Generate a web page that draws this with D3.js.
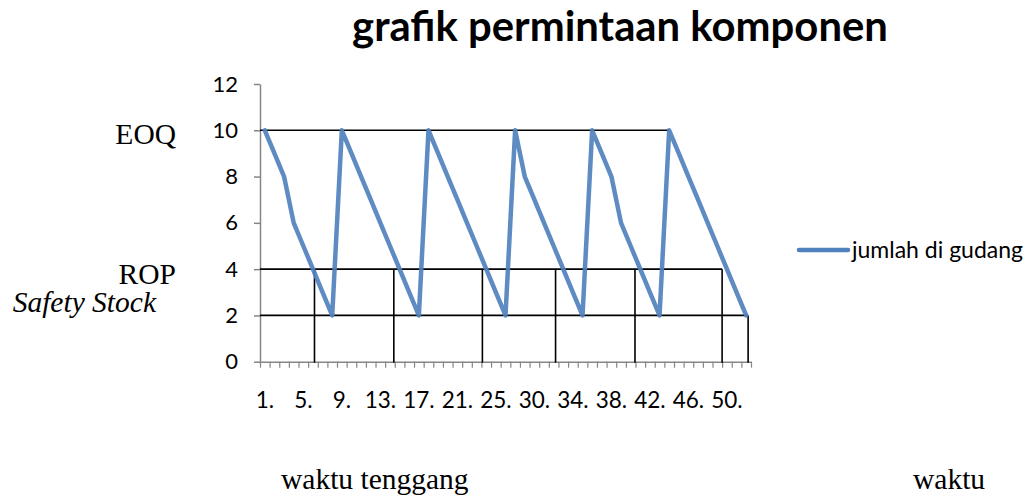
<!DOCTYPE html>
<html>
<head>
<meta charset="utf-8">
<script src="https://cdn.jsdelivr.net/npm/d3@7/dist/d3.min.js"></script>
<style>
  body { margin: 0; background: #fff; }
  svg { display: block; }
</style>
</head>
<body>
<script>
// label waktu di sumbu x (angka 26 tidak ada di data asli)
const categories = ['1.', '2.', '3.', '4.', '5.', '6.', '7.', '8.', '9.', '10.', '11.', '12.', '13.',
  '14.', '15.', '16.', '17.', '18.', '19.', '20.', '21.', '22.', '23.', '24.', '25.', '27.', '28.',
  '29.', '30.', '31.', '32.', '33.', '34.', '35.', '36.', '37.', '38.', '39.', '40.', '41.', '42.',
  '43.', '44.', '45.', '46.', '47.', '48.', '49.', '50.', '51.', '52.'];

// jumlah di gudang per periode
const stock = [10, 9, 8, 6, 5, 4, 3, 2,
  10, 9, 8, 7, 6, 5, 4, 3, 2,
  10, 9, 8, 7, 6, 5, 4, 3, 2,
  10, 8, 7, 6, 5, 4, 3, 2,
  10, 9, 8, 6, 5, 4, 3, 2,
  10, 9, 8, 7, 6, 5, 4, 3, 2];

const yTicks = [0, 2, 4, 6, 8, 10, 12];
const seriesName = 'jumlah di gudang';

// garis bantu: level stok (nilai) dan ujungnya (indeks kategori)
const levelNames = ['EOQ', 'ROP', 'Safety Stock'];
const levelValues = [10, 4, 2];
const levelEnds = [42, 47.5, 50.2];
// garis waktu tenggang (indeks kategori)
const leadMarks = [5.16, 13.4, 22.6, 30.2, 38.45, 47.5];
const lastMark = 50.2;

const width = 1032;
const height = 496;

let svg = d3.select(document.body).append('svg')
  .attr('width', width)
  .attr('height', height);

let x = d3.scaleLinear()
  .domain([-0.5, categories.length - 0.5])
  .range([260, 751]);

let y = d3.scaleLinear()
  .domain([0, 12])
  .range([361.7, 84]);

const axisColor = '#868686';
const labelFont = 'Lato, "Open Sans", sans-serif';
const serif = '"Liberation Serif", "Times New Roman", serif';

// title
let title = svg.append('text')
  .attr('x', 620)
  .attr('y', 41)
  .attr('text-anchor', 'middle')
  .style('font-family', labelFont)
  .style('font-weight', 'bold')
  .style('font-size', '36px')
  .attr('fill', '#000')
  .text('grafik permintaan komponen');
// fit width of the original title
let tlen = title.node().getComputedTextLength();
title.style('font-size', (36 * 536 / tlen) + 'px');

// y axis
let yAxis = svg.append('g')
  .attr('transform', `translate(${x(-0.5)},0)`)
  .call(d3.axisLeft(y).tickValues(yTicks).tickSize(6).tickSizeOuter(0).tickPadding(16));
yAxis.select('.domain').attr('stroke', axisColor).attr('stroke-width', 1.5);
yAxis.selectAll('.tick line').attr('stroke', axisColor).attr('stroke-width', 1.5);
yAxis.selectAll('.tick text')
  .style('font-family', labelFont)
  .style('font-size', '22px')
  .attr('fill', '#000');

// x axis (ticks between categories)
let xAxis = svg.append('g')
  .attr('transform', `translate(0,${y(0)})`)
  .call(d3.axisBottom(x)
    .tickValues(categories.map((c, i) => i - 0.5).concat([categories.length - 0.5]))
    .tickSize(6).tickSizeOuter(0).tickFormat(''));
xAxis.select('.domain').attr('stroke', axisColor).attr('stroke-width', 1.5);
xAxis.selectAll('.tick line').attr('stroke', axisColor).attr('stroke-width', 1.2);

svg.append('g')
  .selectAll('text')
  .data(categories.filter((c, i) => i % 4 === 0))
  .join('text')
    .attr('x', d => x(categories.indexOf(d)))
    .attr('y', y(0) + 46)
    .attr('text-anchor', 'middle')
    .style('font-family', labelFont)
    .style('font-size', '22.5px')
    .attr('fill', '#000')
    .text(d => d);

// guide lines
let guides = svg.append('g')
  .attr('stroke', '#000')
  .attr('stroke-width', 1.6);

guides.selectAll('line.level')
  .data(levelValues)
  .join('line')
    .attr('class', 'level')
    .attr('x1', x(-0.5))
    .attr('x2', (d, i) => x(levelEnds[i]))
    .attr('y1', d => y(d))
    .attr('y2', d => y(d));

guides.selectAll('line.lead')
  .data(leadMarks)
  .join('line')
    .attr('class', 'lead')
    .attr('x1', d => x(d))
    .attr('x2', d => x(d))
    .attr('y1', y(levelValues[1]))
    .attr('y2', y(0) + 1);

guides.append('line')
  .attr('x1', x(lastMark))
  .attr('x2', x(lastMark))
  .attr('y1', y(levelValues[2]))
  .attr('y2', y(0) + 1);

// series line
let line = d3.line()
  .x((d, i) => x(i))
  .y(d => y(d));

svg.append('path')
  .datum(stock)
  .attr('fill', 'none')
  .attr('stroke', '#4F81BD')
  .attr('stroke-opacity', 0.92)
  .attr('stroke-width', 4.5)
  .attr('stroke-linejoin', 'round')
  .attr('stroke-linecap', 'round')
  .attr('d', line);

// level labels on the left
svg.append('g')
  .selectAll('text')
  .data(levelNames)
  .join('text')
    .attr('x', (d, i) => i === 2 ? 156 : 176)
    .attr('y', (d, i) => y(levelValues[i]) + [14, 15, -3][i])
    .attr('text-anchor', 'end')
    .style('font-family', serif)
    .style('font-size', '29.5px')
    .style('font-style', (d, i) => i === 2 ? 'italic' : 'normal')
    .attr('fill', '#000')
    .text(d => d);

// legend
let legend = svg.append('g')
  .attr('transform', 'translate(799,250)');
legend.append('line')
  .attr('x1', 0)
  .attr('x2', 49)
  .attr('stroke', '#4F81BD')
  .attr('stroke-width', 4.5)
  .attr('stroke-linecap', 'round');
legend.append('text')
  .attr('x', 53)
  .attr('y', 8)
  .style('font-family', labelFont)
  .style('font-size', '23px')
  .attr('fill', '#000')
  .text(seriesName);

// bottom captions
svg.append('text')
  .attr('x', 281)
  .attr('y', 489)
  .style('font-family', serif)
  .style('font-size', '29.5px')
  .attr('fill', '#000')
  .text('waktu tenggang');

svg.append('text')
  .attr('x', 913)
  .attr('y', 489)
  .style('font-family', serif)
  .style('font-size', '29.5px')
  .attr('fill', '#000')
  .text('waktu');
</script>
</body>
</html>
